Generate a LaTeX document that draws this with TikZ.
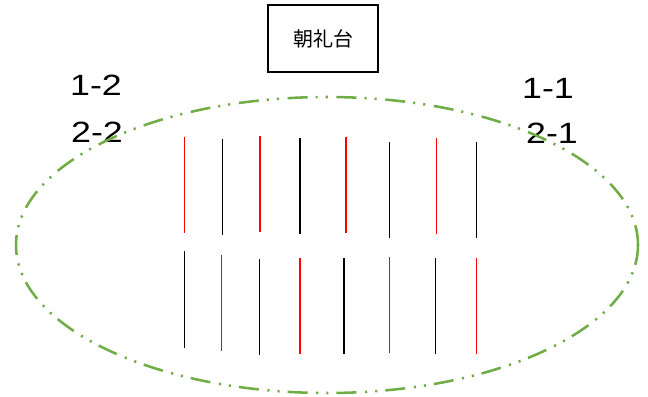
\documentclass[tikz,border=0pt]{standalone}
\usepackage{fontspec}
\setmainfont{Liberation Sans}
\newfontfamily\cjk{Noto Sans CJK JP}
\definecolor{ovalgreen}{HTML}{70AD47}
\newcommand{\lbltxt}[1]{\scalebox{1.22}[1]{#1}}
\begin{document}
\begin{tikzpicture}[x=0.75pt,y=-0.75pt,
  redline/.style={draw=red,line width=1.1pt},
  blackline/.style={draw=black,line width=1.1pt},
  lbl/.style={font=\fontsize{22}{24}\selectfont,inner sep=0pt},
  stage/.style={draw=black,line width=1.2pt,minimum width=109.5*0.75pt,minimum height=67*0.75pt,inner sep=0pt,font=\cjk\fontsize{15}{16}\selectfont}]
\useasboundingbox (0,0) rectangle (648,396);
\node[stage] (stage) at (323,38.5) {朝礼台};
\node[lbl] (l12) at (96,85) {\lbltxt{1-2}};
\node[lbl] (l22) at (97,132) {\lbltxt{2-2}};
\node[lbl] (l11) at (548,88) {\lbltxt{1-1}};
\node[lbl] (l21) at (552,133) {\lbltxt{2-1}};
\draw[draw=ovalgreen,line width=1.9pt,dash pattern=on 15pt off 6pt on 1.6pt off 6pt on 1.6pt off 6.5pt] (327,245) ellipse [x radius=311, y radius=148];
% top row
\draw[redline] (184.3,136.7) -- (184.3,232.7);
\draw[blackline] (222.7,138.7) -- (222.7,234.7);
\draw[redline] (260,135.7) -- (260,231.7);
\draw[blackline] (300,137.7) -- (300,233.7);
\draw[redline] (346,136.7) -- (346,232.7);
\draw[blackline] (389.7,141.7) -- (389.7,237.7);
\draw[redline] (436.7,137.7) -- (436.7,233.7);
\draw[blackline] (476.7,141.7) -- (476.7,237.7);
% bottom row
\draw[blackline] (184.3,251.3) -- (184.3,347.7);
\draw[redline] (221.7,255.3) -- (221.7,351.3);
\draw[blackline] (259.3,259.3) -- (259.3,355.3);
\draw[redline] (300,258.3) -- (300,354.3);
\draw[blackline] (344,258.3) -- (344,354.3);
\draw[redline] (389.7,257.3) -- (389.7,353.3);
\draw[blackline] (435.7,258.3) -- (435.7,354.3);
\draw[redline] (476.7,258.3) -- (476.7,354.3);
\end{tikzpicture}
\end{document}
